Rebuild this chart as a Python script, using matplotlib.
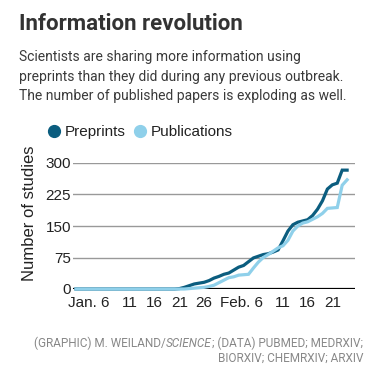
import matplotlib
matplotlib.use("Agg")
import matplotlib.pyplot as plt
import matplotlib.transforms as mtransforms
from matplotlib.lines import Line2D

plt.rcParams["font.family"] = ["Roboto", "DejaVu Sans"]
chart_font = ["Liberation Sans", "DejaVu Sans"]

# days counted from Dec. 31 (day 1 = Jan. 1)
days = list(range(56))
preprints = [0, 0, 0, 0, 0, 0, 0, 0, 0, 0, 0, 0, 0, 0, 0, 0, 0, 0, 0, 0, 0,
             1, 4, 8, 12, 14, 16, 20, 26, 30, 35, 38, 45, 52, 56, 65, 74, 78,
             82, 84, 88, 93, 115, 138, 153, 159, 162, 165, 175, 190, 210, 238,
             248, 252, 283, 283]
publications = [0, 0, 0, 0, 0, 0, 0, 0, 0, 0, 0, 0, 0, 0, 0, 0, 0, 0, 0, 0,
                 0, 0, 0, 1, 2, 3, 4, 6, 9, 15, 21, 27, 29, 33, 34, 35, 50, 64,
                 75, 82, 90, 98, 103, 116, 138, 150, 157, 160, 166, 172, 180,
                 192, 193, 194, 247, 260]

xtick_days = [6, 11, 16, 21, 26, 37, 42, 47, 52]
xtick_labels = ["Jan. 6", "11", "16", "21", "26", "Feb. 6", "11", "16", "21"]
ytick_values = [0, 75, 150, 225, 300]

dark = "#0b5d7f"
light = "#8fd0ea"
W, H = 391, 387

fig = plt.figure(figsize=(W / 100, H / 100), dpi=100)

# header
fig.text(19 / W, 1 - 30 / H, "Information revolution", fontsize=16,
         fontweight="bold", color="#333333", va="baseline")
sub = ["Scientists are sharing more information using",
       "preprints than they did during any previous outbreak.",
       "The number of published papers is exploding as well."]
for i, line in enumerate(sub):
    fig.text(19 / W, 1 - (61 + 19.5 * i) / H, line, fontsize=10,
             color="#3a3a3a", va="baseline")

ax = fig.add_axes([73 / W, 98 / H, 282 / W, 126 / H])
ax.plot(days, preprints, color=dark, lw=2.3, clip_on=False, zorder=3,
        solid_joinstyle="miter")
ax.plot(days, publications, color=light, lw=2.3, clip_on=False, zorder=4,
        solid_joinstyle="miter")
ax.axhline(0, color="black", lw=1.6, zorder=2)

ax.set_xlim(-0.6, 56.6)
ax.set_ylim(0, 300)
ax.set_yticks(ytick_values)
ax.set_yticklabels([str(v) for v in ytick_values], family=chart_font)
ax.grid(axis="y", color="#999999", lw=1)
ax.set_axisbelow(True)
for s in ax.spines.values():
    s.set_visible(False)
ax.tick_params(axis="y", length=0, pad=1.5, labelsize=11, labelcolor="#222222")
ax.tick_params(axis="x", length=0, pad=5, labelsize=11, labelcolor="#222222")

ax.set_xticks(xtick_days)
ax.set_xticklabels(xtick_labels, family=chart_font)
shift = mtransforms.ScaledTranslation(4.3 / 100, 0, fig.dpi_scale_trans)
for lab in ax.get_xticklabels():
    if "." in lab.get_text():
        lab.set_ha("right")
        lab.set_transform(lab.get_transform() + shift)

ax.set_ylabel("Number of studies", fontsize=12, color="#222222",
              family=chart_font)
ax.yaxis.set_label_coords(-0.128, 0.6)

handles = [Line2D([], [], ls="none", marker="o", markersize=8.5, color=dark),
           Line2D([], [], ls="none", marker="o", markersize=8.5, color=light)]
fig.legend(handles, ["Preprints", "Publications"], loc="center left",
           bbox_to_anchor=(47 / W, 1 - 132 / H), ncol=2, frameon=False,
           prop={"family": chart_font, "size": 11}, handlelength=0.9,
           handletextpad=0.25, columnspacing=0.5, borderpad=0,
           borderaxespad=0, labelcolor="#222222")

# source note, right aligned with italic SCIENCE
src_kw = dict(fontsize=8.5, color="#888888", va="baseline")
y1 = 1 - 347 / H
t3 = fig.text(363 / W, y1, "; (DATA) PUBMED; MEDRXIV;", ha="right", **src_kw)
t2 = ax.annotate("SCIENCE", xy=(0, y1), xycoords=(t3, "figure fraction"),
                 ha="right", style="italic", annotation_clip=False, **src_kw)
ax.annotate("(GRAPHIC) M. WEILAND/", xy=(0, y1),
            xycoords=(t2, "figure fraction"), ha="right",
            annotation_clip=False, **src_kw)
fig.text(363 / W, 1 - 362 / H, "BIORXIV; CHEMRXIV; ARXIV", ha="right",
         **src_kw)

fig.savefig("out.png", dpi=100)
